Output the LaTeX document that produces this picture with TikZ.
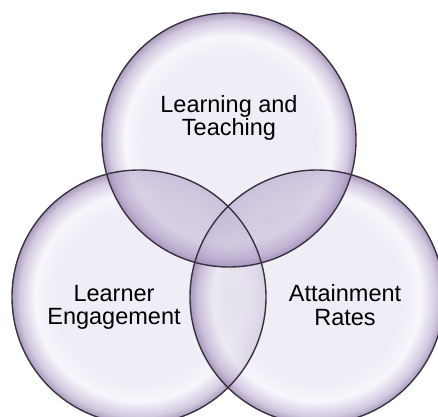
\documentclass[tikz,border=0pt]{standalone}
\usepackage{fontspec}
\setmainfont{Liberation Sans}

% Colours of the bubbles
\definecolor{bubcore}{RGB}{236,233,243}
\definecolor{bubglow}{RGB}{246,245,250}
\definecolor{bubmid}{RGB}{200,189,218}
\definecolor{bubrim}{RGB}{150,133,172}
\definecolor{lavtint}{RGB}{165,148,192}
\definecolor{bubline}{RGB}{58,50,66}

% Glassy bubble: flat pale core, bright ring, purple rim (edge of circle = 25bp)
\pgfdeclareradialshading{bubble}{\pgfpoint{0bp}{0bp}}{%
  color(0bp)=(bubcore); color(17bp)=(bubcore); color(20.5bp)=(bubglow);
  color(23.5bp)=(bubmid); color(25bp)=(bubrim); color(50bp)=(bubrim)}

\tikzset{
  bubblefill/.style={shading=bubble, opacity=0.8},
  overlaptint/.style={fill=lavtint, opacity=0.36},
  lowtint/.style={fill=lavtint, opacity=0.1},
  bubbleedge/.style={draw=bubline, line width=1.4pt},
  label/.style={align=center, text=black, inner sep=0pt,
    font=\fontsize{23.5}{23.5}\selectfont},
}

\begin{document}
\begin{tikzpicture}[x=1pt, y=1pt]
  \clip (0,0) rectangle (438,416);
  \fill[white] (0,0) rectangle (438,416);

  \def\rad{127}
  \coordinate (top) at (229,276);
  \coordinate (left) at (139,119);
  \coordinate (right) at (317,119);

  % bubbles
  \shade[bubblefill] (left) circle[radius=\rad];
  \shade[bubblefill] (right) circle[radius=\rad];
  \shade[bubblefill] (top) circle[radius=\rad];

  % darker tint where the upper bubble overlaps the lower ones
  \begin{scope}
    \clip (top) circle[radius=\rad];
    \fill[overlaptint] (left) circle[radius=\rad] (right) circle[radius=\rad];
  \end{scope}
  % faint tint where the two lower bubbles overlap
  \begin{scope}
    \clip (left) circle[radius=\rad];
    \fill[lowtint] (right) circle[radius=\rad];
  \end{scope}

  % outlines
  \draw[bubbleedge] (left) circle[radius=\rad];
  \draw[bubbleedge] (right) circle[radius=\rad];
  \draw[bubbleedge] (top) circle[radius=\rad];

  % labels
  \node[label] (lt) at (229,298) {Learning and\\Teaching};
  \node[label] (le) at (114,108.5) {Learner\\Engagement};
  \node[label] (ar) at (345,111) {Attainment\\Rates};
\end{tikzpicture}
\end{document}
